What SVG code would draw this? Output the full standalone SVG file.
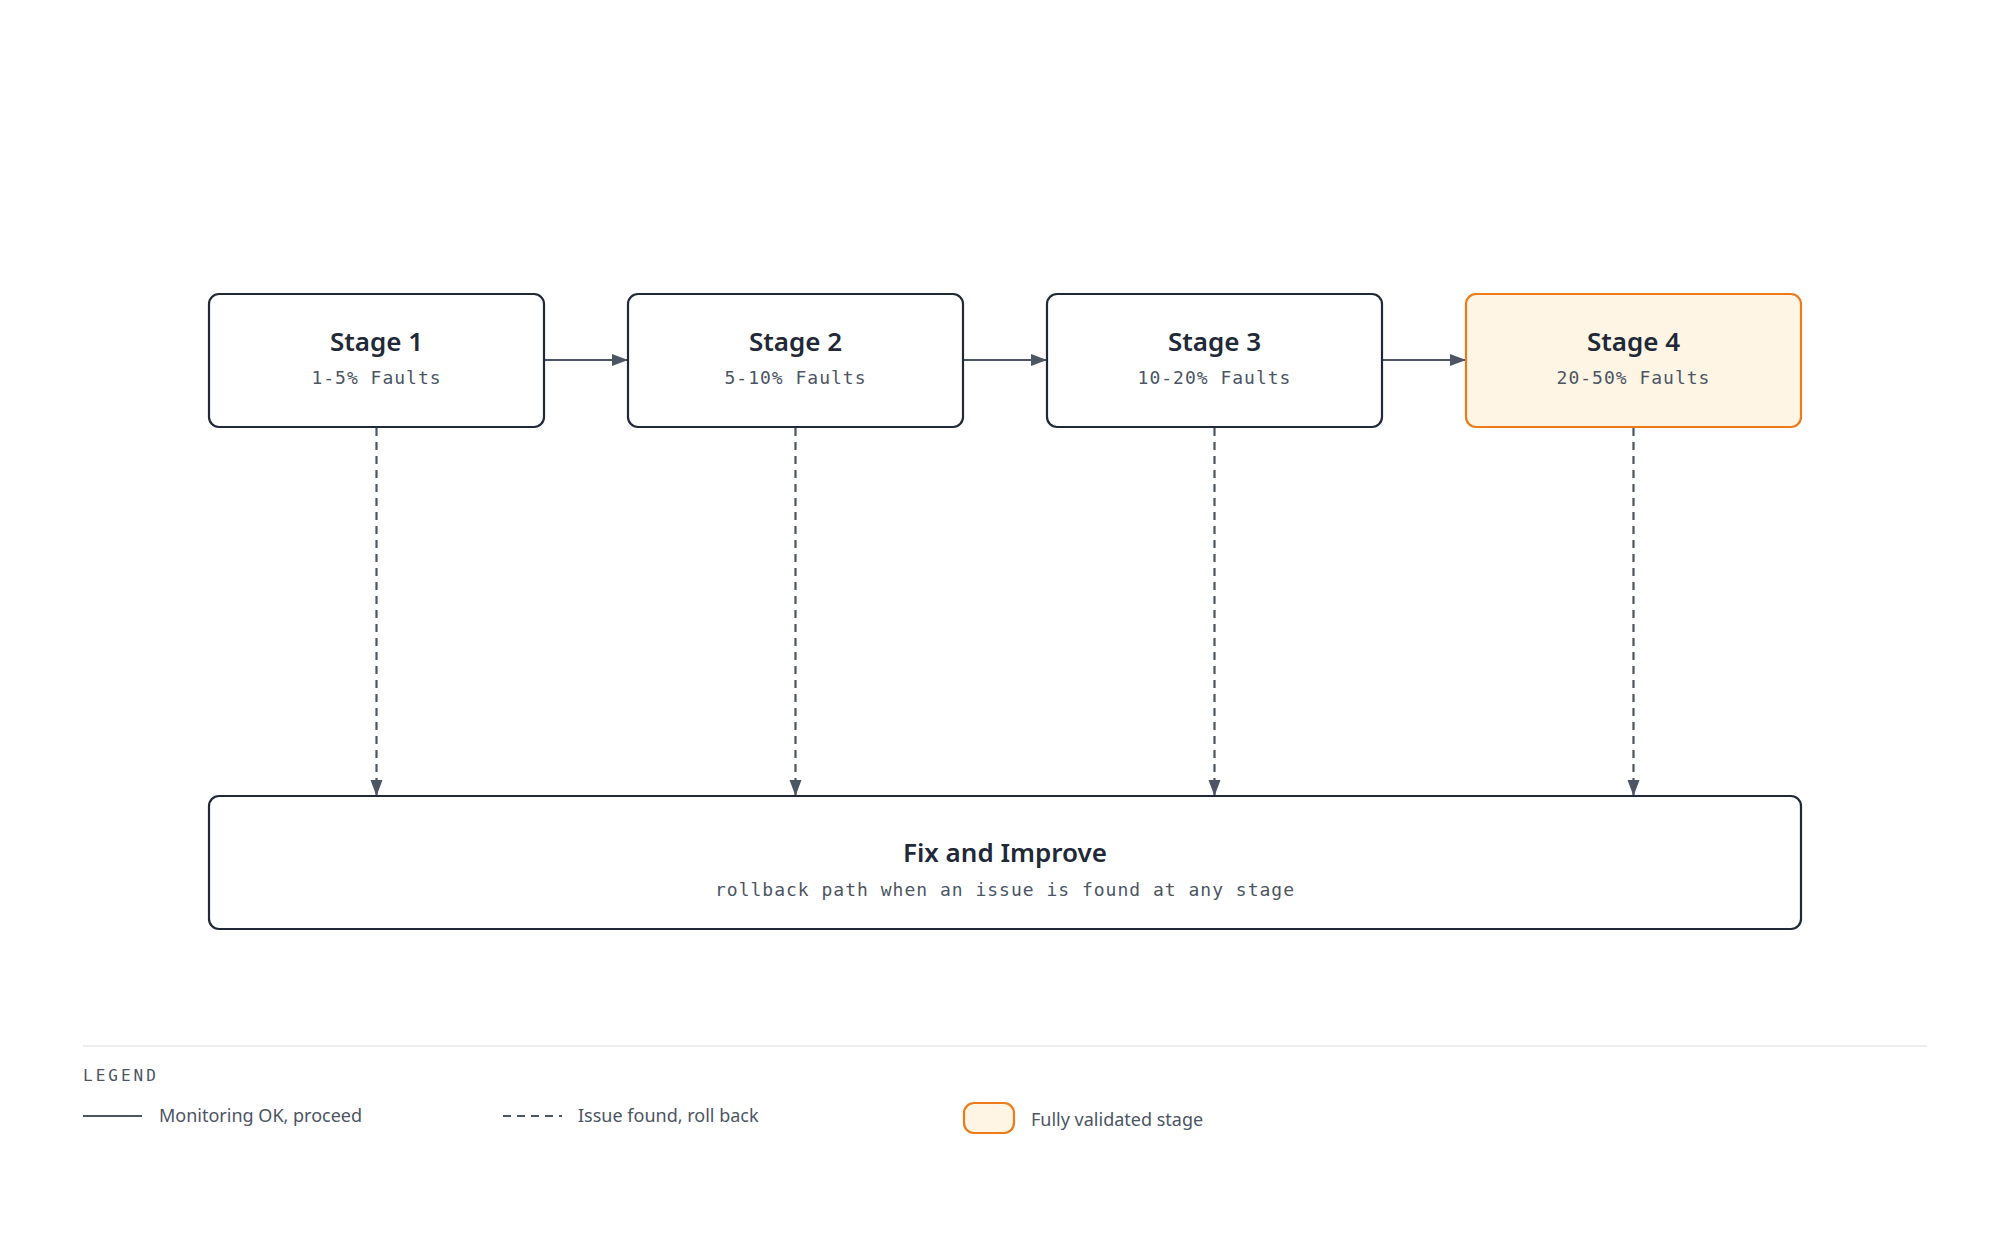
<svg xmlns="http://www.w3.org/2000/svg" width="2000" height="1250" viewBox="0 0 2000 1250">
<style>
.box{fill:#fff;stroke:#1f2937;stroke-width:2.2}
.hl{fill:#fef5e4;stroke:#ee7a1a;stroke-width:2.2}
.t{font-family:"Noto Sans",sans-serif;font-weight:600;font-size:26px;fill:#1f2937;text-anchor:middle}
.s{font-family:"DejaVu Sans Mono","Liberation Mono",monospace;font-size:18px;fill:#4b5563;text-anchor:middle;letter-spacing:1px}
.ln{stroke:#4b5563;stroke-width:2.2;fill:none}
.d{stroke-dasharray:8 6}
.lg{font-family:"Noto Sans",sans-serif;font-size:18px;fill:#4b5563}
</style>
<defs><marker id="a" markerWidth="10" markerHeight="10" refX="9" refY="5" orient="auto" markerUnits="userSpaceOnUse" viewBox="0 0 10 10"><path d="M0,0 L10,5 L0,10 Z" fill="#4b5563"/></marker>
<marker id="b" markerWidth="16" markerHeight="16" refX="15" refY="8" orient="auto" markerUnits="userSpaceOnUse" viewBox="0 0 16 16"><path d="M0,2 L16,8 L0,14 Z" fill="#4b5563"/></marker></defs>
<g id="connectors">
<line class="ln" x1="545" y1="360" x2="627" y2="360" marker-end="url(#b)"/>
<line class="ln" x1="964" y1="360" x2="1046" y2="360" marker-end="url(#b)"/>
<line class="ln" x1="1383" y1="360" x2="1465" y2="360" marker-end="url(#b)"/>
<line class="ln d" x1="376.5" y1="428" x2="376.5" y2="795" marker-end="url(#b)"/>
<line class="ln d" x1="795.5" y1="428" x2="795.5" y2="795" marker-end="url(#b)"/>
<line class="ln d" x1="1214.5" y1="428" x2="1214.5" y2="795" marker-end="url(#b)"/>
<line class="ln d" x1="1633.5" y1="428" x2="1633.5" y2="795" marker-end="url(#b)"/>
</g>
<g id="stage1"><rect class="box" x="209" y="294" width="335" height="133" rx="10"/><text class="t" x="376.5" y="351">Stage 1</text><text class="s" x="376.5" y="384">1-5% Faults</text></g>
<g id="stage2"><rect class="box" x="628" y="294" width="335" height="133" rx="10"/><text class="t" x="795.5" y="351">Stage 2</text><text class="s" x="795.5" y="384">5-10% Faults</text></g>
<g id="stage3"><rect class="box" x="1047" y="294" width="335" height="133" rx="10"/><text class="t" x="1214.5" y="351">Stage 3</text><text class="s" x="1214.5" y="384">10-20% Faults</text></g>
<g id="stage4"><rect class="hl" x="1466" y="294" width="335" height="133" rx="10"/><text class="t" x="1633.5" y="351">Stage 4</text><text class="s" x="1633.5" y="384">20-50% Faults</text></g>
<g id="fix"><rect class="box" x="209" y="796" width="1592" height="133" rx="10"/><text class="t" x="1005" y="862">Fix and Improve</text><text class="s" x="1005" y="896">rollback path when an issue is found at any stage</text></g>
<g id="legend">
<line x1="83" y1="1046" x2="1927" y2="1046" stroke="#e5e7eb" stroke-width="1.5"/>
<text x="83" y="1081" font-family="DejaVu Sans Mono,monospace" font-size="16" fill="#4b5563" letter-spacing="3">LEGEND</text>
<line class="ln" x1="83" y1="1116" x2="142" y2="1116"/>
<text class="lg" x="159" y="1122">Monitoring OK, proceed</text>
<line class="ln d" x1="503" y1="1116" x2="562" y2="1116"/>
<text class="lg" x="578" y="1122">Issue found, roll back</text>
<rect class="hl" x="964" y="1103" width="50" height="30" rx="10"/>
<text class="lg" x="1031" y="1126">Fully validated stage</text>
</g>
</svg>
